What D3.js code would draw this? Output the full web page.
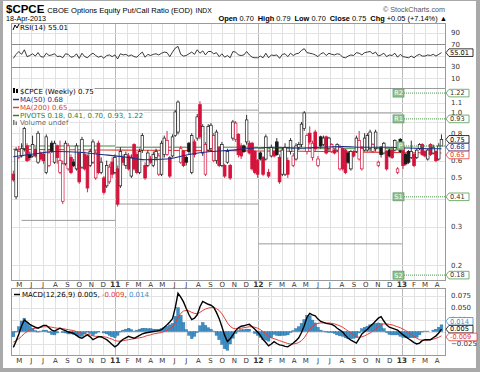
<!DOCTYPE html>
<html>
<head>
<meta charset="utf-8">
<script src="https://cdn.jsdelivr.net/npm/d3@7/dist/d3.min.js"></script>
<style>
body { margin: 0; background: #fff; }
svg { display: block; font-family: "DejaVu Sans", Verdana, sans-serif; }
</style>
</head>
<body>
<svg id="chart" width="480" height="372"></svg>
<script>
// weekly candles, first week ends 16-Apr-2010
var firstWeek = new Date(2010, 3, 16);
var opens = [.52,.41,.62,.63,.68,.70,.64,.63,.67,.59,.65,.64,.53,.57,.72,.59,.70,.53,.39,.58,
  .55,.62,.59,.55,.65,.56,.64,.63,.57,.59,.50,.72,.53,.50,.46,.48,.59,.53,.55,.46,
  .62,.57,.63,.51,.71,.64,.53,.67,.57,.57,.61,.57,.62,.52,.52,.64,.64,.62,.63,.78,
  .81,.59,.66,.62,.72,.53,.73,.76,1.08,.65,.52,.67,.68,.60,.60,.69,.57,.57,.59,.57,
  .76,.75,.79,.70,.70,.73,.72,.72,.66,.60,.65,.62,.61,.53,.63,.66,.73,.62,.52,.52,
  .60,.66,.57,.61,.69,.71,.84,.66,.80,.62,.81,.57,.77,.71,.77,.68,.66,.67,.67,.55,
  .68,.67,.65,.55,.66,.66,.61,.55,.67,.67,.68,.66,.68,.57,.69,.65,.66,.67,.67,.67,
  .53,.75,.69,.64,.66,.62,.64,.62,.68,.71,.66,.61,.71,.65,.66,.61,.70];
var highs = [.54,.69,.70,.72,.90,.72,.66,.78,.69,.82,.66,.66,.79,.68,.74,.74,.71,.74,.60,.74,
  .72,.64,.61,.72,.66,.77,.66,.64,.68,.75,.67,.74,.62,.51,.60,.58,.62,.64,.57,.69,
  .64,.66,.65,.64,.72,.66,.68,.80,.59,.67,.63,.66,.68,.65,.74,.78,.82,.63,.79,1.02,
  1.13,.70,.67,.63,.73,.80,.75,.98,1.12,.88,.73,.88,.89,.80,.83,.70,.73,.58,.68,.58,
  .92,.91,.80,.72,.71,.97,.74,.73,.67,.61,.66,.63,.79,.55,.71,.67,.76,.64,.69,.72,
  .62,.76,.65,.72,.73,.90,1.01,.80,.86,.74,.83,.63,.78,.78,.78,.77,.72,.68,.72,.71,
  .69,.68,.66,.67,.67,.78,.82,.70,.80,.80,.83,.72,.83,.60,.70,.73,.67,.68,.68,.75,
  .56,.76,.70,.65,.67,.74,.65,.68,.72,.72,.67,.68,.72,.71,.67,.72,.79];
var lows = [.48,.40,.61,.62,.66,.59,.60,.62,.62,.58,.60,.58,.52,.56,.65,.58,.58,.52,.38,.57,
  .54,.52,.56,.54,.47,.55,.54,.43,.56,.58,.49,.52,.52,.42,.45,.47,.50,.52,.37,.45,
  .57,.55,.54,.50,.54,.52,.52,.65,.49,.56,.58,.56,.60,.51,.51,.62,.63,.50,.62,.77,
  .79,.58,.56,.57,.64,.52,.62,.74,.75,.63,.51,.66,.66,.59,.58,.56,.56,.50,.58,.49,
  .74,.73,.62,.61,.65,.71,.64,.54,.52,.50,.60,.51,.60,.50,.62,.62,.63,.47,.51,.51,
  .50,.64,.56,.60,.67,.69,.82,.64,.71,.60,.66,.56,.68,.70,.64,.66,.65,.64,.66,.54,
  .54,.52,.58,.54,.62,.65,.60,.54,.66,.66,.66,.65,.66,.56,.62,.64,.54,.62,.61,.66,
  .52,.65,.55,.57,.58,.61,.56,.61,.67,.63,.62,.60,.63,.64,.59,.60,.70];
var closes = [.49,.67,.66,.68,.84,.60,.62,.71,.63,.80,.61,.60,.77,.65,.66,.72,.62,.60,.58,.72,
  .70,.53,.57,.70,.48,.75,.55,.45,.66,.73,.65,.53,.59,.43,.57,.56,.52,.62,.38,.66,
  .59,.64,.55,.62,.55,.53,.66,.78,.50,.65,.59,.64,.66,.63,.72,.76,.74,.51,.77,1.00,
  1.11,.68,.57,.59,.66,.78,.64,.95,.77,.86,.71,.86,.87,.78,.81,.57,.71,.51,.66,.50,
  .90,.89,.64,.63,.66,.92,.65,.55,.53,.52,.61,.52,.77,.51,.69,.63,.64,.48,.67,.69,
  .52,.74,.63,.70,.71,.88,.99,.78,.73,.72,.68,.61,.70,.76,.65,.76,.71,.65,.71,.69,
  .55,.53,.59,.66,.63,.76,.74,.68,.76,.78,.81,.71,.81,.59,.64,.72,.55,.63,.62,.74,
  .55,.66,.57,.58,.59,.66,.57,.67,.71,.64,.63,.67,.64,.69,.60,.70,.75];

// moving averages, read at a few weeks
var maWeeks   = [0,8,16,24,32,40,48,56,64,72,80,88,96,104,112,120,128,136,144,152,156];
var ma50Vals  = [.625,.645,.66,.655,.64,.625,.605,.61,.64,.66,.67,.685,.69,.685,.69,.695,.69,.69,.685,.68,.68];
var ma200Vals = [.675,.674,.673,.672,.671,.67,.669,.668,.667,.666,.665,.664,.663,.662,.66,.658,.656,.654,.652,.651,.65];

// pivot segments (one per year)
var pivotStart = [new Date(2010, 4, 7), new Date(2011, 0, 1), new Date(2012, 0, 1), new Date(2013, 0, 1)];
var pivotEnd   = [new Date(2011, 0, 1), new Date(2012, 0, 1), new Date(2013, 0, 1), new Date(2013, 3, 21)];
var pivotP  = [0.70, 0.69, 0.68, 0.70];
var pivotR1 = [1.02, 1.02, 0.99, 0.93];
var pivotS1 = [0.32, 0.38, 0.25, 0.41];
var pivotR2 = [null, null, null, 1.22];
var pivotS2 = [null, null, null, 0.18];

var rsiVals = [45,52,57,52,60,48,50,53,49,55,48,47,54,50,51,53,48,49,46,53,52,47,48,53,45,54,48,46,51,54,
  50,47,49,45,50,51,48,51,44,53,51,52,49,51,48,47,52,56,47,52,50,52,53,51,54,56,55,48,56,63,
  66,52,49,50,53,56,52,60,54,58,51,57,57,53,55,48,53,47,50,46,57,56,51,50,51,57,51,47,46,46,
  49,46,54,46,51,50,51,45,52,53,48,54,50,53,54,59,62,55,54,53,51,48,53,55,50,54,52,51,53,52,
  47,46,49,51,50,55,54,51,55,56,57,53,56,49,51,54,48,51,50,54,47,52,48,47,46,49,46,50,52,49,
  49,51,50,52,49,52,55.01];

var macdVals = [-.033,-.020,-.005,.012,.024,.020,.015,.012,.009,.007,.010,.013,.013,.008,.003,.001,.004,.007,.004,.002,
  -.001,-.002,-.004,-.008,-.012,-.014,-.010,-.007,-.011,-.017,-.014,-.011,-.011,-.014,-.017,-.022,-.027,-.032,-.028,-.021,
  -.016,-.013,-.010,-.012,-.014,-.011,-.008,-.005,-.003,-.002,-.001,.000,.001,.002,.004,.009,.014,.020,.027,.050,
  .080,.072,.062,.048,.035,.025,.028,.035,.052,.063,.060,.057,.055,.051,.040,.027,.010,-.008,-.021,-.015,
  -.007,.002,.008,.011,.012,.014,.015,.010,.005,-.001,-.008,-.017,-.023,-.030,-.026,-.021,-.025,-.028,-.029,-.031,
  -.032,-.028,-.024,-.019,-.013,-.002,.012,.030,.038,.035,.033,.026,.021,.019,.017,.016,.015,.012,.007,.003,
  -.001,-.008,-.014,-.018,-.021,-.024,-.015,-.005,.000,.005,.011,.016,.022,.028,.031,.022,.014,.009,.007,.005,
  .003,-.002,-.007,-.011,-.015,-.019,-.023,-.026,-.024,-.019,-.017,-.017,-.017,-.013,-.009,-.003,.005];
var signalVals = [-.022,-.019,-.015,-.010,-.004,.000,.003,.005,.007,.008,.009,.010,.010,.010,.009,.008,.007,.007,.006,.005,
  .004,.003,.002,.000,-.002,-.004,-.005,-.006,-.007,-.009,-.010,-.010,-.011,-.011,-.012,-.014,-.016,-.019,-.020,-.020,
  -.019,-.018,-.017,-.016,-.015,-.014,-.013,-.012,-.010,-.008,-.007,-.005,-.004,-.003,-.002,.000,.003,.006,.010,.018,
  .030,.038,.043,.044,.043,.040,.038,.037,.040,.044,.047,.049,.050,.050,.048,.044,.037,.028,.018,.011,
  .007,.006,.006,.007,.008,.009,.010,.010,.009,.007,.004,.000,-.005,-.010,-.013,-.015,-.017,-.019,-.021,-.023,
  -.025,-.026,-.026,-.025,-.023,-.019,-.013,-.004,.005,.011,.015,.017,.018,.018,.018,.018,.017,.016,.014,.012,
  .009,.005,.001,-.003,-.007,-.011,-.012,-.011,-.009,-.006,-.003,.001,.005,.010,.014,.016,.016,.015,.014,.012,
  .010,.008,.005,.002,-.002,-.006,-.010,-.014,-.017,-.018,-.018,-.018,-.017,-.016,-.014,-.012,-.009];

var priceTicks = [1.1, 1.0, 0.8, 0.6, 0.5, 0.3, 0.2];
var priceGrid = [1.1, 1.0, 0.9, 0.8, 0.7, 0.6, 0.5, 0.4, 0.3, 0.2];
var rsiTicks = [90, 70, 30, 10];
var macdTicks = [0.075, 0.050, 0.025, -0.025];
var monthNames = ['J','F','M','A','M','J','J','A','S','O','N','D'];

var RED = '#d4143c', BLUE_MA = '#1a2f8a', RED_MA = '#e0403a', GREEN = '#4f9a4f', HIST = '#3d8fc6';

var svg = d3.select('#chart');
var L = 11, R = 445;
var weeks = [];
for (i = 0; i < closes.length; i++) weeks.push(d3.timeDay.offset(firstWeek, 7 * i));

var x = d3.scaleTime().domain([new Date(2010, 3, 10), new Date(2013, 3, 21)]).range([L, R]);
var yR = d3.scaleLinear().domain([0, 100]).range([84, 27]);
var yP = d3.scaleLog().domain([0.171, 1.287]).range([280, 88]);
var yM = d3.scaleLinear().domain([-0.049, 0.091]).range([355, 288]);

// frame
svg.append('rect').attr('width', 480).attr('height', 372).attr('fill', '#a9a9a9');
svg.append('rect').attr('x', 3).attr('y', 1).attr('width', 473).attr('height', 367).attr('fill', '#fff');

// header
var h1 = svg.append('text').attr('x', 6).attr('y', 13).style('font-family', '"Liberation Sans", Arial, sans-serif');
h1.append('tspan').attr('font-size', 11.5).attr('font-weight', 'bold').text('$CPCE');
h1.append('tspan').attr('font-size', 7.6).attr('dx', 3).text('CBOE Options Equity Put/Call Ratio (EOD)');
h1.append('tspan').attr('font-size', 6.8).attr('dx', 3).text('INDX');
svg.append('text').attr('x', 445).attr('y', 12).attr('text-anchor', 'end').attr('font-size', 7.2)
   .attr('fill', '#555').style('font-family', '"Liberation Sans", Arial, sans-serif').text('\u00a9 StockCharts.com');
svg.append('text').attr('x', 6).attr('y', 21).attr('font-size', 7.2)
   .style('font-family', '"Liberation Sans", Arial, sans-serif').text('18-Apr-2013');
var h2 = svg.append('text').attr('x', 447).attr('y', 21).attr('text-anchor', 'end').attr('font-size', 7.4)
   .style('font-family', '"Liberation Sans", Arial, sans-serif');
var quote = [['Open', '0.70'], ['High', '0.79'], ['Low', '0.70'], ['Close', '0.75'], ['Chg', '+0.05 (+7.14%) \u25b2']];
for (i = 0; i < quote.length; i++) {
   h2.append('tspan').attr('font-weight', 'bold').attr('dx', i ? 4 : 0).text(quote[i][0]);
   h2.append('tspan').attr('dx', 2).text(quote[i][1]);
}

// panels
var panels = [[23, 88], [88, 280], [288, 355]];
function vgrid(y0, y1) {
   var months = d3.timeMonth.range(new Date(2010, 4, 1), new Date(2013, 3, 2));
   svg.append('g').selectAll('line').data(months).enter().append('line')
      .attr('x1', function(d){ return Math.round(x(d)) + 0.5; })
      .attr('x2', function(d){ return Math.round(x(d)) + 0.5; })
      .attr('y1', y0).attr('y2', y1)
      .attr('stroke', function(d){ return d.getMonth() == 0 ? '#b8b8b8' : '#e2e2e2'; });
}
function hgrid(vals, scale, color) {
   svg.append('g').selectAll('line').data(vals).enter().append('line')
      .attr('x1', L).attr('x2', R)
      .attr('y1', function(d){ return Math.round(scale(d)) + 0.5; })
      .attr('y2', function(d){ return Math.round(scale(d)) + 0.5; })
      .attr('stroke', color);
}
for (i = 0; i < panels.length; i++) vgrid(panels[i][0], panels[i][1]);
hgrid([90, 50, 10], yR, '#e2e2e2');
hgrid([70, 30], yR, '#8c8c8c');
hgrid(priceGrid, yP, '#e2e2e2');
hgrid([0.05, 0.025, 0, -0.025, 0.075], yM, '#e2e2e2');
for (i = 0; i < panels.length; i++) {
   svg.append('rect').attr('x', L + 0.5).attr('y', panels[i][0] + 0.5)
      .attr('width', R - L).attr('height', panels[i][1] - panels[i][0])
      .attr('fill', 'none').attr('stroke', '#9a9a9a');
}

// month labels
function monthLabels(yy) {
   var months = d3.timeMonth.range(new Date(2010, 4, 1), new Date(2013, 3, 2));
   svg.append('g').selectAll('text').data(months).enter().append('text')
      .attr('x', function(d){ return x(d); }).attr('y', yy)
      .attr('text-anchor', 'middle').attr('font-size', function(d){ return d.getMonth() == 0 ? 7.5 : 7; })
      .attr('font-weight', function(d){ return d.getMonth() == 0 ? 'bold' : 'normal'; })
      .attr('fill', '#333')
      .text(function(d){ return d.getMonth() == 0 ? d3.timeFormat('%y')(d) : monthNames[d.getMonth()]; });
}
monthLabels(287);
monthLabels(363);

// RSI
var rsiLine = d3.line().x(function(d, i){ return x(weeks[i]); }).y(function(d){ return yR(d); });
svg.append('path').datum(rsiVals).attr('d', rsiLine).attr('fill', 'none').attr('stroke', '#222').attr('stroke-width', 0.9);

// pivots of past years
var pivLine = function(vals, color) {
   for (var k = 0; k < vals.length; k++) {
      if (vals[k] == null) continue;
      svg.append('line').attr('x1', x(pivotStart[k])).attr('x2', x(pivotEnd[k]))
         .attr('y1', yP(vals[k])).attr('y2', yP(vals[k]))
         .attr('stroke', color).attr('stroke-width', 1);
   }
};
pivLine(pivotR1.slice(0, 3), '#9a9a9a');
pivLine(pivotS1.slice(0, 3), '#9a9a9a');
pivLine(pivotP.slice(0, 3), GREEN);

// MAs
function maLine(vals) {
   return d3.line().curve(d3.curveMonotoneX)
      .x(function(d, i){ return x(weeks[maWeeks[i]]); }).y(function(d){ return yP(d); })(vals);
}
svg.append('path').attr('d', maLine(ma200Vals)).attr('fill', 'none').attr('stroke', RED_MA).attr('stroke-width', 1.1);

// candles: hollow when close >= open, red when close < previous close
var cg = svg.append('g');
for (i = 0; i < closes.length; i++) {
   var cx = x(weeks[i]);
   var up = i == 0 ? false : closes[i] >= closes[i - 1];
   var col = up ? '#1a1a1a' : RED;
   var hollow = closes[i] >= opens[i];
   cg.append('line').attr('x1', cx).attr('x2', cx).attr('y1', yP(highs[i])).attr('y2', yP(lows[i]))
     .attr('stroke', col).attr('stroke-width', 0.9);
   var bodyTop = yP(Math.max(opens[i], closes[i])), bodyBot = yP(Math.min(opens[i], closes[i]));
   cg.append('rect').attr('x', cx - 1.3).attr('y', bodyTop).attr('width', 2.6).attr('height', Math.max(bodyBot - bodyTop, 1))
     .attr('fill', hollow ? '#fff' : col).attr('stroke', col).attr('stroke-width', hollow ? 0.7 : 0.9);
}
svg.append('path').attr('d', maLine(ma50Vals)).attr('fill', 'none').attr('stroke', BLUE_MA).attr('stroke-width', 1.1);

// current year pivots
var pivNames = ['R2', 'R1', 'P', 'S1', 'S2'];
var pivNow = [pivotR2[3], pivotR1[3], pivotP[3], pivotS1[3], pivotS2[3]];
for (i = 0; i < pivNow.length; i++) {
   var py = yP(pivNow[i]);
   svg.append('line').attr('x1', 404).attr('x2', R).attr('y1', py).attr('y2', py)
      .attr('stroke', GREEN).attr('stroke-dasharray', '1,1');
   var w = pivNames[i].length * 4 + 3;
   svg.append('rect').attr('x', 404 - w).attr('y', py - 4).attr('width', w).attr('height', 8)
      .attr('fill', '#8fbf8f').attr('stroke', '#5e9a5e').attr('stroke-width', 0.7);
   svg.append('text').attr('x', 404 - w / 2).attr('y', py + 2.4).attr('text-anchor', 'middle')
      .attr('font-size', 6.5).attr('fill', '#fff').text(pivNames[i]);
}

// MACD
var mline = function(vals) {
   return d3.line().x(function(d, i){ return x(weeks[i]); }).y(function(d){ return yM(d); })(vals);
};
var mg = svg.append('g');
for (i = 0; i < macdVals.length; i++) {
   var hv = macdVals[i] - signalVals[i];
   mg.append('rect').attr('x', x(weeks[i]) - 1.4).attr('width', 2.8)
     .attr('y', Math.min(yM(hv), yM(0))).attr('height', Math.abs(yM(hv) - yM(0)))
     .attr('fill', HIST).attr('stroke', '#2a6fa0').attr('stroke-width', 0.4);
}
svg.append('path').attr('d', mline(signalVals)).attr('fill', 'none').attr('stroke', RED_MA).attr('stroke-width', 1);
svg.append('path').attr('d', mline(macdVals)).attr('fill', 'none').attr('stroke', '#000').attr('stroke-width', 1.4);

// legends
function legendRow(yy, color, label, icon) {
   var t = svg.append('text').attr('x', 20).attr('y', yy).attr('font-size', 7).attr('fill', color).text(label);
   var bb = t.node().getBBox();
   svg.insert('rect', function(){ return t.node(); }).attr('x', 12).attr('y', bb.y).attr('width', bb.x + bb.width - 11).attr('height', bb.height)
      .attr('fill', '#fff').attr('opacity', 0.85);
   if (icon == 'line') svg.append('line').attr('x1', 13).attr('x2', 19).attr('y1', yy - 2.5).attr('y2', yy - 2.5).attr('stroke', color).attr('stroke-width', 1.5);
   if (icon == 'bars') {
      svg.append('rect').attr('x', 13).attr('y', yy - 5).attr('width', 1.5).attr('height', 5).attr('fill', '#777');
      svg.append('rect').attr('x', 15.5).attr('y', yy - 3.5).attr('width', 1.5).attr('height', 3.5).attr('fill', '#777');
   }
   if (icon == 'candle') {
      svg.append('rect').attr('x', 13).attr('y', yy - 6).attr('width', 2).attr('height', 5).attr('fill', '#000');
      svg.append('rect').attr('x', 16).attr('y', yy - 5).attr('width', 2).attr('height', 4).attr('fill', '#000');
   }
}
legendRow(94, '#000', '$CPCE (Weekly) 0.75', 'candle');
legendRow(102, BLUE_MA, 'MA(50) 0.68', 'line');
legendRow(110, RED_MA, 'MA(200) 0.65', 'line');
legendRow(118, '#2e7d2e', 'PIVOTS 0.18, 0.41, 0.70, 0.93, 1.22', 'line');
legendRow(125, '#666', 'Volume undef', 'bars');

var rl = svg.append('text').attr('x', 20).attr('y', 30).attr('font-size', 7).text('RSI(14) 55.01');
svg.append('path').attr('d', 'M13,30 L15,25 L17,28 L19,24').attr('fill', 'none').attr('stroke', '#000');

var ml = svg.append('text').attr('x', 22).attr('y', 297).attr('font-size', 7);
ml.append('tspan').text('MACD(12,26,9) 0.005, ');
ml.append('tspan').attr('fill', RED_MA).text('-0.009');
ml.append('tspan').text(', ');
ml.append('tspan').attr('fill', HIST).text('0.014');
svg.append('line').attr('x1', 14).attr('x2', 20).attr('y1', 294.5).attr('y2', 294.5).attr('stroke', '#000').attr('stroke-width', 1.5);

// right axis labels
function axisText(vals, scale, fmt) {
   svg.append('g').selectAll('text').data(vals).enter().append('text')
      .attr('x', 451).attr('y', function(d){ return scale(d) + 2.5; })
      .attr('font-size', 7).attr('fill', '#333').text(fmt);
}
axisText(rsiTicks, yR, function(d){ return d; });
axisText(priceTicks, yP, function(d){ return d3.format('.1f')(d); });
axisText(macdTicks, yM, function(d){ return d3.format('.3f')(d); });

// value tags, stacked so they do not cover each other
function tag(yy, text, color, tcolor) {
   var w = text.length * 4 + 4;
   svg.append('path').attr('d', 'M446,' + yy + ' l3,-3.8 h' + w + ' v7.6 h-' + w + ' z')
      .attr('fill', '#fff').attr('stroke', color).attr('stroke-width', 0.8);
   svg.append('text').attr('x', 450).attr('y', yy + 2.3).attr('font-size', 6.6).attr('fill', tcolor).text(text);
}
tag(yR(55.01), '55.01', '#000', '#000');
tag(yP(1.22), '1.22', GREEN, '#333');
tag(yP(0.93), '0.93', GREEN, '#333');
tag(yP(0.41), '0.41', GREEN, '#333');
tag(yP(0.18), '0.18', GREEN, '#333');
tag(yP(0.75), '0.75', '#000', '#000');
tag(yP(0.75) + 7.8, '0.68', BLUE_MA, BLUE_MA);
tag(yP(0.75) + 15.6, '0.65', RED_MA, RED_MA);
tag(yM(0.005) - 7.8, '0.014', HIST, HIST);
tag(yM(0.005), '0.005', '#000', '#000');
tag(yM(0.005) + 7.8, '-0.009', RED_MA, RED_MA);
</script>
</body>
</html>
